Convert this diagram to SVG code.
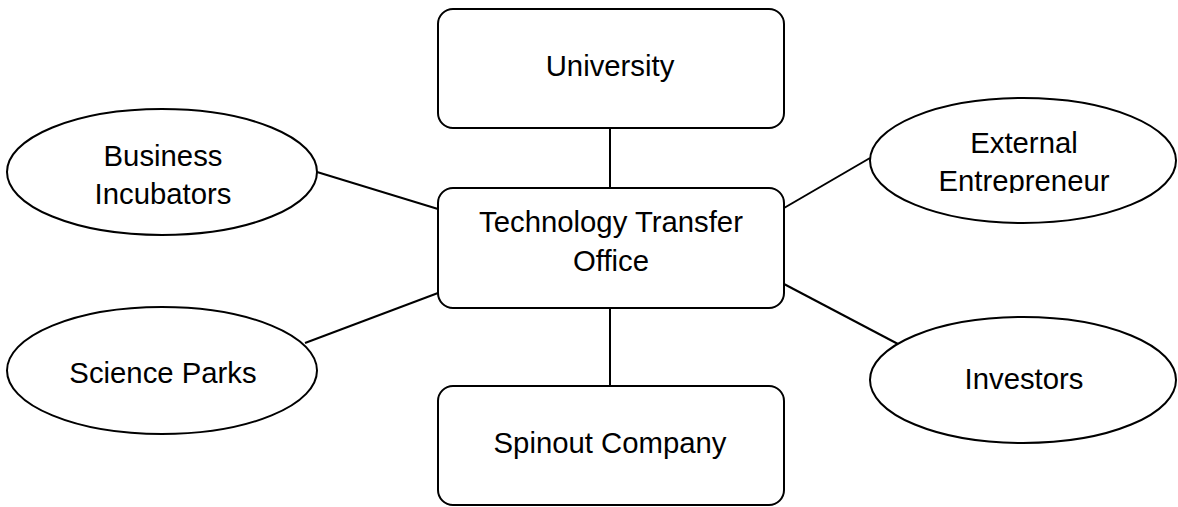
<svg xmlns="http://www.w3.org/2000/svg" width="1178" height="507" viewBox="0 0 1178 507">
  <style>
    .box { fill: #ffffff; stroke: #000000; stroke-width: 2; }
    .link { fill: none; stroke: #000000; stroke-width: 2; }
    .label { font-family: "Liberation Sans", Arial, sans-serif; font-size: 29.3px; fill: #000000; text-anchor: middle; }
  </style>
  <defs>
    <clipPath id="entrepreneur-clip">
      <rect x="860" y="90" width="318" height="103"/>
    </clipPath>
  </defs>
  <rect width="1178" height="507" fill="#ffffff"/>

  <g id="connectors">
    <line class="link" x1="610" y1="128" x2="610" y2="188"/>
    <line class="link" x1="610" y1="308" x2="610" y2="386"/>
    <line class="link" x1="317" y1="172" x2="438" y2="209"/>
    <line class="link" x1="305" y1="343" x2="438" y2="293"/>
    <line class="link" x1="870" y1="158" x2="784" y2="208"/>
    <line class="link" x1="784" y1="284" x2="898" y2="344"/>
  </g>

  <g id="university">
    <rect class="box" x="438" y="9" width="346" height="119" rx="15" ry="15"/>
    <text class="label" x="610" y="76">University</text>
  </g>

  <g id="tto">
    <rect class="box" x="438" y="188" width="346" height="120" rx="15" ry="15"/>
    <text class="label" x="611" y="232">Technology Transfer</text>
    <text class="label" x="611" y="271">Office</text>
  </g>

  <g id="spinout">
    <rect class="box" x="438" y="386" width="346" height="119" rx="15" ry="15"/>
    <text class="label" x="610" y="453">Spinout Company</text>
  </g>

  <g id="business-incubators">
    <ellipse class="box" cx="162" cy="172" rx="155" ry="63"/>
    <text class="label" x="163" y="166">Business</text>
    <text class="label" x="163" y="204">Incubators</text>
  </g>

  <g id="science-parks">
    <ellipse class="box" cx="162" cy="370.5" rx="155" ry="63.5"/>
    <text class="label" x="163" y="383">Science Parks</text>
  </g>

  <g id="external-entrepreneur">
    <ellipse class="box" cx="1023" cy="160.5" rx="153" ry="62.5"/>
    <text class="label" x="1024" y="153">External</text>
    <text class="label" x="1024" y="191" clip-path="url(#entrepreneur-clip)">Entrepreneur</text>
  </g>

  <g id="investors">
    <ellipse class="box" cx="1023" cy="380" rx="153" ry="63"/>
    <text class="label" x="1024" y="389">Investors</text>
  </g>
</svg>
